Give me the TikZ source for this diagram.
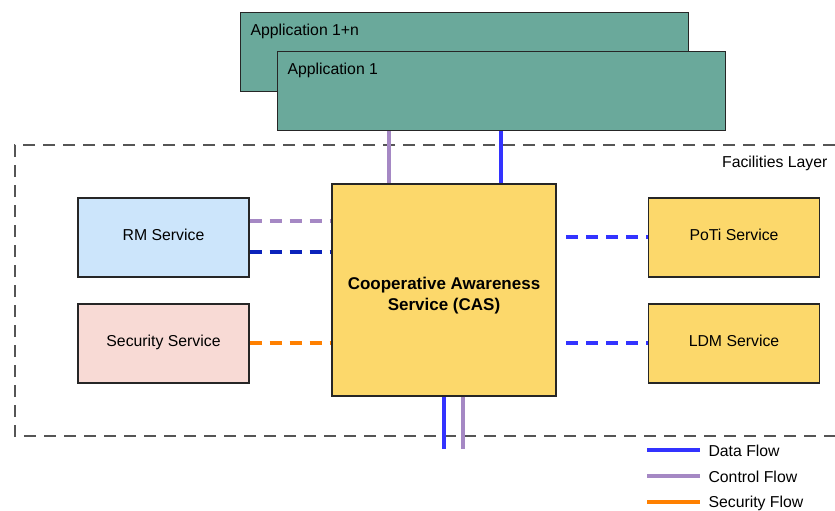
\documentclass[tikz,border=0pt]{standalone}
\usepackage{fontspec}
\setmainfont{Liberation Sans}
\definecolor{appteal}{HTML}{6AA99B}
\definecolor{casyellow}{HTML}{FCD86B}
\definecolor{rmblue}{HTML}{CCE5FB}
\definecolor{secpink}{HTML}{F8DAD5}
\definecolor{dataflow}{HTML}{3333FF}
\definecolor{darkflow}{HTML}{0A22BB}
\definecolor{ctrlflow}{HTML}{A588C4}
\definecolor{secflow}{HTML}{FF8000}
\definecolor{layergray}{HTML}{555555}
\begin{document}
\begin{tikzpicture}[x=1pt,y=-1pt,
  lbl/.style={font=\fontsize{15.8}{19}\selectfont},
  box/.style={draw=black!85,line width=1.3pt,inner sep=0pt,lbl},
  appbox/.style={box,fill=appteal,anchor=north west},
  svc/.style={box,minimum width=171pt,minimum height=79pt,text depth=6pt},
  flow/.style={line width=3.5pt},
  dflow/.style={line width=3.5pt,dash pattern=on 12pt off 8pt},
  legtext/.style={anchor=west,lbl}]
\useasboundingbox (0,0) rectangle (835,511);
% facilities layer frame (open on the right)
\draw[layergray,line width=1.2pt,dash pattern=on 12pt off 8pt]
  (835,145) -- (15,145) -- (15,436) -- (835,436);
\node[anchor=east,lbl] (fl) at (831,163) {Facilities Layer};
% application boxes
\node[appbox,minimum width=448pt,minimum height=79pt] (appn) at (240,12) {};
\node[anchor=west,lbl] (appnl) at (247,31) {Application 1+n};
\node[appbox,minimum width=448pt,minimum height=79pt] (app1) at (277,51) {};
\node[anchor=west,lbl] (app1l) at (284,70) {Application 1};
% central service
\node[box,fill=casyellow,minimum width=224pt,minimum height=212pt] (cas) at (444,290) {};
\node[align=center,font=\fontsize{17}{21}\selectfont\bfseries] (casl) at (444,296)
  {Cooperative Awareness\\Service (CAS)};
% surrounding services
\node[svc,fill=rmblue] (rm) at (163.5,237.5) {RM Service};
\node[svc,fill=secpink] (sec) at (163.5,343.5) {Security Service};
\node[svc,fill=casyellow] (poti) at (734,237.5) {PoTi Service};
\node[svc,fill=casyellow] (ldm) at (734,343.5) {LDM Service};
% application to CAS
\draw[flow,ctrlflow] (app1.south -| 389,0) -- (cas.north -| 389,0);
\draw[flow,dataflow] (app1.south -| 501,0) -- (cas.north -| 501,0);
% RM and security links
\draw[dflow,ctrlflow] (rm.east |- 0,221) -- (cas.west |- 0,221);
\draw[dflow,darkflow] (rm.east |- 0,252) -- (cas.west |- 0,252);
\draw[dflow,secflow] (sec.east |- 0,343) -- (cas.west |- 0,343);
% PoTi and LDM links
\coordinate (pt) at (566,237);
\coordinate (lt) at (566,343);
\draw[dflow,dataflow] (pt) -- (poti.west |- pt);
\draw[dflow,dataflow] (lt) -- (ldm.west |- lt);
% downward links
\coordinate (db) at (444,449);
\coordinate (cb) at (463,449);
\draw[flow,dataflow] (cas.south -| db) -- (db);
\draw[flow,ctrlflow] (cas.south -| cb) -- (cb);
% legend
\coordinate (l1a) at (647,450); \coordinate (l1b) at (700,450);
\coordinate (l2a) at (647,476); \coordinate (l2b) at (700,476);
\coordinate (l3a) at (647,502); \coordinate (l3b) at (700,502);
\draw[flow,dataflow] (l1a) -- (l1b);
\draw[flow,ctrlflow] (l2a) -- (l2b);
\draw[flow,secflow] (l3a) -- (l3b);
\node[legtext] (t1) at (705,451) {Data Flow};
\node[legtext] (t2) at (705,477) {Control Flow};
\node[legtext] (t3) at (705,503) {Security Flow};
\end{tikzpicture}
\end{document}
